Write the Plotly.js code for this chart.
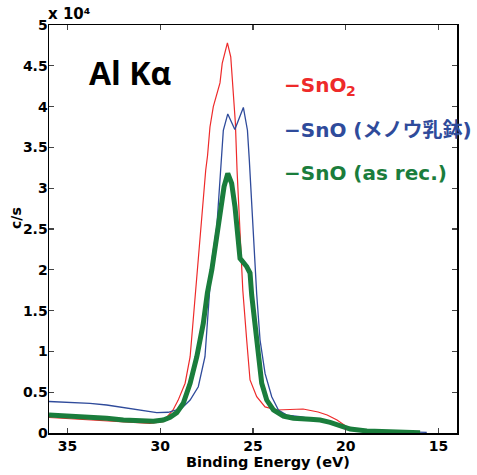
<!DOCTYPE html>
<html><head><meta charset="utf-8">
<script src="https://cdn.plot.ly/plotly-3.0.1.min.js"></script>
<style>html,body{margin:0;padding:0;background:#fff}</style>
</head><body>
<div id="chart" style="width:477px;height:475px"></div>
<script>
// Binding energy (eV) and counts (c/s, in units of 10^4)
const energySnO2 = [36.0,34.7,32.9,31.5,30.55,29.85,29.31,29.04,28.66,28.39,28.22,28.07,27.55,27.45,27.32,27.14,26.95,26.78,26.66,26.38,26.20,26.06,25.95,25.86,25.55,25.34,25.16,24.80,24.35,23.72,22.84,22.30,21.49,21.0,20.47,19.93,19.39,18.5,17.5,16.0];
const countsSnO2 = [0.19,0.175,0.151,0.135,0.119,0.138,0.282,0.40,0.61,0.935,1.42,1.75,3.22,3.40,3.75,4.00,4.14,4.29,4.53,4.78,4.61,4.20,3.80,3.22,1.75,1.14,0.65,0.445,0.32,0.282,0.285,0.294,0.257,0.22,0.16,0.074,0.05,0.03,0.02,0.01];

const energySnOMortar = [36.0,34.69,33.79,32.89,31.99,31.09,30.19,29.57,29.20,28.84,28.39,27.95,27.59,27.32,27.22,26.95,26.72,26.60,26.36,25.98,25.52,25.30,25.20,24.80,24.62,24.35,23.99,23.63,23.18,22.46,21.76,21.0,20.3,19.6,18.5,17.0,15.63];
const countsSnOMortar = [0.386,0.371,0.364,0.343,0.31,0.273,0.249,0.254,0.282,0.303,0.404,0.567,0.935,1.75,2.12,2.53,3.31,3.71,3.91,3.72,3.99,3.71,3.35,1.70,1.14,0.73,0.445,0.282,0.22,0.20,0.17,0.135,0.085,0.045,0.025,0.015,0.008];

const energySnOAsRec = [36.0,34.69,33.79,32.89,31.99,31.09,30.37,29.84,29.47,29.11,28.76,28.39,28.03,27.68,27.46,27.22,27.05,26.87,26.68,26.56,26.36,26.15,25.97,25.84,25.70,25.34,25.16,25.07,24.89,24.71,24.53,24.26,23.90,23.36,22.82,21.92,21.38,20.84,20.30,19.76,18.86,17.43,15.99];
const countsSnOAsRec = [0.22,0.208,0.192,0.18,0.159,0.147,0.143,0.159,0.192,0.25,0.364,0.609,0.935,1.344,1.716,2.0,2.24,2.49,2.77,3.02,3.18,3.06,2.77,2.37,2.14,2.04,1.96,1.69,1.344,0.935,0.609,0.404,0.282,0.208,0.18,0.168,0.159,0.131,0.086,0.049,0.025,0.016,0.004];

const seriesNames = ["SnO", "SnO (メノウ乳鉢)", "SnO (as rec.)"];
const seriesSubscripts = ["2", "", ""];
const seriesColors = ["#ee2a2a", "#2f4b9b", "#1a7d3c"];
const xTickVals = [35,30,25,20,15];
const yTickVals = [0,0.5,1,1.5,2,2.5,3,3.5,4,4.5,5];

const L=49, R=20, T=25, B=42, W=477, H=475;
const pw=W-L-R, ph=H-T-B;
const px = x => (x-L)/pw;
const py = y => (H-B-y)/ph;

const bold = {family:"DejaVu Sans, Noto Sans CJK JP, sans-serif", weight:"bold", color:"#000"};

const traces = [
  {x:energySnO2, y:countsSnO2, type:"scatter", mode:"lines", name:seriesNames[0]+seriesSubscripts[0], line:{color:seriesColors[0], width:1.2}},
  {x:energySnOMortar, y:countsSnOMortar, type:"scatter", mode:"lines", name:seriesNames[1], line:{color:seriesColors[1], width:1.3}},
  {x:energySnOAsRec, y:countsSnOAsRec, type:"scatter", mode:"lines", name:seriesNames[2], line:{color:seriesColors[2], width:5}}
];

const legendY = [85, 129.5, 173.3];
const annotations = [
  {text:"Al Kα", xref:"paper", yref:"paper", x:px(87), y:py(72), xanchor:"left", yanchor:"middle", showarrow:false,
   font:{family:"Open Sans, sans-serif", weight:"bold", size:32, color:"#000"}},
  {text:"Binding Energy (eV)", xref:"paper", yref:"paper", x:px(268), y:py(462), xanchor:"center", yanchor:"middle", showarrow:false,
   font:Object.assign({size:14.5}, bold)},
  {text:"c/s", xref:"paper", yref:"paper", x:px(16), y:py(218), xanchor:"center", yanchor:"middle", textangle:-90, showarrow:false,
   font:Object.assign({size:14}, bold)},
  {text:"x 10⁴", xref:"paper", yref:"paper", x:px(46), y:py(14), xanchor:"left", yanchor:"middle", showarrow:false,
   font:Object.assign({size:15}, bold)}
];
seriesNames.forEach((n,i)=>{
  annotations.push({text:"−"+n, xref:"paper", yref:"paper", x:px(282), y:py(legendY[i]), xanchor:"left", yanchor:"middle", showarrow:false,
    font:Object.assign({}, bold, {size:20, color:seriesColors[i]})});
  if (seriesSubscripts[i]) {
    annotations.push({text:seriesSubscripts[i], xref:"paper", yref:"paper", x:px(344), y:py(legendY[i]+6), xanchor:"left", yanchor:"middle", showarrow:false,
      font:Object.assign({}, bold, {size:14, color:seriesColors[i]})});
  }
});

const axisCommon = {showline:true, linecolor:"#000", linewidth:1.5, mirror:"ticks", ticks:"inside", ticklen:5, tickwidth:1.2, tickcolor:"#444",
  showgrid:false, zeroline:false, tickfont:Object.assign({size:14}, bold)};

const layout = {
  width:W, height:H, margin:{l:L, r:R, t:T, b:B, pad:0},
  paper_bgcolor:"#fff", plot_bgcolor:"#fff", showlegend:false,
  xaxis:Object.assign({}, axisCommon, {range:[36,14], tickvals:xTickVals, ticktext:xTickVals.map(String)}),
  yaxis:Object.assign({}, axisCommon, {range:[0,5], tickvals:yTickVals, ticktext:yTickVals.map(String), ticklabelstandoff:-3}),
  annotations
};
Plotly.newPlot("chart", traces, layout, {staticPlot:true});
</script>
</body></html>
